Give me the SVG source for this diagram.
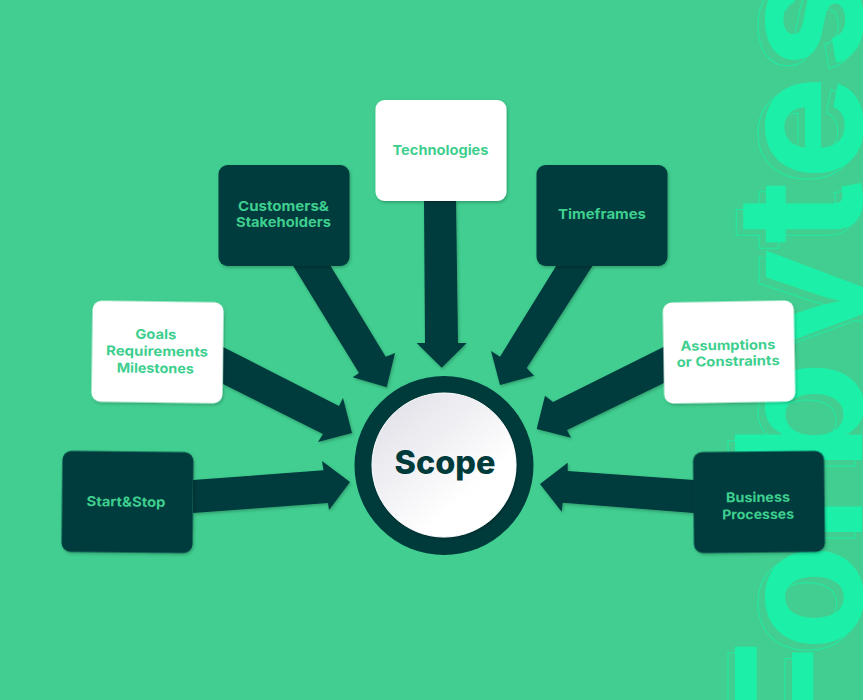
<svg xmlns="http://www.w3.org/2000/svg" width="863" height="700" viewBox="0 0 863 700">
<style>
.bg{fill:#41ce90}
.wm{font-family:Inter,"Noto Sans","DejaVu Sans",sans-serif;font-weight:700;font-size:175px}
.wf{fill:#1cf0a8}
.ws{fill:none;stroke:#1cf0a8;stroke-width:1;opacity:.85}
.dark{fill:#003b3c}
.white{fill:#fff}
.lb{font-family:Inter,"Open Sans","Liberation Sans",sans-serif;font-weight:700;font-size:13.5px;fill:#3ecf8f;text-anchor:middle}
.sc{font-family:Inter,"Open Sans","Liberation Sans",sans-serif;font-weight:800;font-size:33px;fill:#003b3c;text-anchor:middle}
</style>
<defs>
<filter id="sh" x="-15%" y="-15%" width="130%" height="130%"><feDropShadow dx="1" dy="1.5" stdDeviation="1.5" flood-color="#000" flood-opacity=".25"/></filter>
<linearGradient id="disc" x1="0.15" y1="0.1" x2="0.85" y2="0.9"><stop offset="0" stop-color="#e3e3ea"/><stop offset="0.75" stop-color="#fff"/></linearGradient>
</defs>
<rect class="bg" width="863" height="700"/>
<g id="watermark">
<text class="wm ws" transform="translate(855,706) rotate(-90)" x="-42 49 157 229 347 456 520 631" y="0">Folbytes</text>
<text class="wm wf" transform="translate(862,700) rotate(-90)" x="-42 49 157 229 347 456 520 631" y="0">Folbytes</text>
</g>
<g id="connectors" class="dark" filter="url(#sh)">
<polygon points="193,480 323.5,470.3 322,461 350,482 329,510 328,503 193,513"/>
<polygon points="223,347 339,406 343,398 352,433 318,442 323,434 223,384"/>
<polygon points="292.7,265 330,265 385.7,356.7 395,353 386.7,387.3 352.7,377.3 359,373"/>
<polygon points="424,200 456,200 458,343 466.7,343 441.7,367.7 416.7,343 425,343"/>
<polygon points="556.7,265 593,265 526.7,368 534,375.7 500,385 491,351 500,356.7"/>
<polygon points="664,346.7 553,402 545,395.7 536.7,429 571,437.7 567,430 664,383"/>
<polygon points="694,480 567.7,471 567.7,462.7 540,484 561.7,511.7 562.7,502.7 694,513"/>
</g>
<g id="node-start" transform="translate(127.5,502) rotate(0.6)"><rect class="dark" x="-65.5" y="-50.5" width="131" height="101" rx="9" filter="url(#sh)"/><text class="lb" x="-1.5" y="4.5" textLength="79" lengthAdjust="spacingAndGlyphs">Start&amp;Stop</text></g>
<g id="node-goals" transform="translate(157.5,352) rotate(0.8)"><rect class="white" x="-65.5" y="-50.5" width="131" height="101" rx="9" filter="url(#sh)"/><text class="lb" x="-2" y="-13" textLength="41" lengthAdjust="spacingAndGlyphs">Goals</text><text class="lb" x="-0.5" y="4" textLength="102" lengthAdjust="spacingAndGlyphs">Requirements</text><text class="lb" x="-2" y="21" textLength="77" lengthAdjust="spacingAndGlyphs">Milestones</text></g>
<g id="node-customers"><rect class="dark" x="218.5" y="165" width="131" height="101" rx="9" filter="url(#sh)"/><text class="lb" x="283.5" y="211" textLength="91" lengthAdjust="spacingAndGlyphs">Customers&amp;</text><text class="lb" x="283.5" y="227" textLength="95" lengthAdjust="spacingAndGlyphs">Stakeholders</text></g>
<g id="node-technologies"><rect class="white" x="375.5" y="100" width="131" height="101" rx="9" filter="url(#sh)"/><text class="lb" x="440.5" y="155" textLength="96" lengthAdjust="spacingAndGlyphs">Technologies</text></g>
<g id="node-timeframes"><rect class="dark" x="536.5" y="165" width="131" height="101" rx="9" filter="url(#sh)"/><text class="lb" x="602" y="219" textLength="88" lengthAdjust="spacingAndGlyphs">Timeframes</text></g>
<g id="node-assumptions" transform="translate(729,352) rotate(-1)"><rect class="white" x="-65.5" y="-50.5" width="131" height="101" rx="9" filter="url(#sh)"/><text class="lb" x="-1" y="-2" textLength="95" lengthAdjust="spacingAndGlyphs">Assumptions</text><text class="lb" x="-1" y="14" textLength="103" lengthAdjust="spacingAndGlyphs">or Constraints</text></g>
<g id="node-business" transform="translate(759,502) rotate(-0.6)"><rect class="dark" x="-65.5" y="-50.5" width="131" height="101" rx="9" filter="url(#sh)"/><text class="lb" x="-1" y="0" textLength="64" lengthAdjust="spacingAndGlyphs">Business</text><text class="lb" x="-1" y="17" textLength="72" lengthAdjust="spacingAndGlyphs">Processes</text></g>
<g id="node-scope"><circle class="dark" cx="444" cy="465.5" r="89.5"/><circle cx="444" cy="465" r="72" fill="url(#disc)" stroke="#fff" stroke-width="1" filter="url(#sh)"/><text class="sc" x="445" y="474" textLength="101" lengthAdjust="spacingAndGlyphs">Scope</text></g>
</svg>
